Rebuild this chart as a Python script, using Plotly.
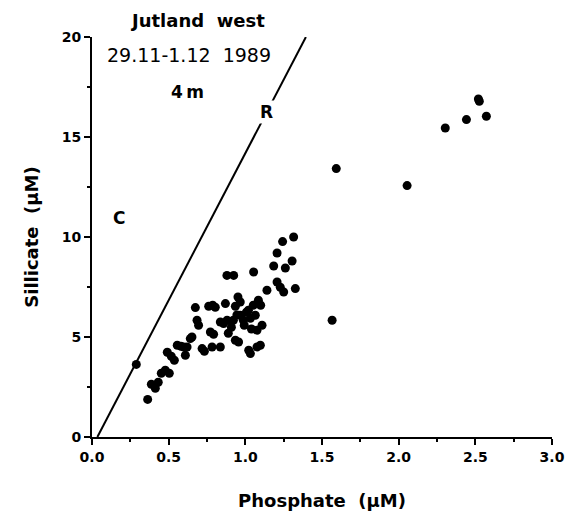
import plotly.graph_objects as go

# Scatter data: phosphate (µM) vs silicate (µM)
phosphate = [
    0.289, 0.363, 0.387, 0.413, 0.432, 0.452, 0.478, 0.504, 0.491, 0.517,
    0.537, 0.556, 0.580, 0.598, 0.609, 0.620, 0.641, 0.652, 0.674, 0.685,
    0.695, 0.718, 0.733, 0.761, 0.787, 0.804, 0.772, 0.793, 0.783, 0.837,
    0.837, 0.858, 0.881, 0.870, 0.889, 0.909, 0.935, 0.952, 0.967, 0.935,
    0.956, 0.922, 0.945, 0.967, 0.987, 1.007, 0.993, 1.020, 1.033, 1.052,
    1.065, 1.085, 1.100, 1.040, 0.880, 0.924, 1.054, 1.141, 1.207, 1.228,
    1.250, 1.326, 1.185, 1.261, 1.305, 1.207, 1.243, 1.315, 1.109, 1.076,
    1.098, 1.076, 1.022, 1.033, 1.566, 1.593, 2.055, 2.304, 2.442, 2.526,
    2.520, 2.572,
]
silicate = [
    3.63, 1.88, 2.64, 2.44, 2.74, 3.19, 3.34, 3.19, 4.24, 4.04,
    3.84, 4.59, 4.54, 4.50, 4.09, 4.50, 4.92, 5.00, 6.47, 5.84,
    5.59, 4.42, 4.29, 6.54, 6.59, 6.49, 5.25, 5.14, 4.50, 4.50,
    5.75, 5.67, 5.84, 6.67, 5.19, 5.49, 6.54, 7.00, 6.75, 4.84,
    4.75, 5.84, 6.10, 6.09, 5.84, 6.24, 5.59, 6.34, 5.94, 6.59,
    6.09, 6.84, 6.59, 5.40, 8.08, 8.08, 8.25, 7.34, 7.75, 7.49,
    7.25, 7.42, 8.55, 8.45, 8.80, 9.20, 9.77, 10.00, 5.59, 5.34,
    4.59, 4.50, 4.34, 4.17, 5.84, 13.42, 12.57, 15.45, 15.87, 16.79,
    16.90, 16.04,
]

# Reference ratio line (R)
line_p = [0.035, 1.395]
line_si = [0.0, 20.0]

x_ticks = [0.0, 0.5, 1.0, 1.5, 2.0, 2.5, 3.0]
x_ticktext = ["0.0", "0.5", "1.0", "1.5", "2.0", "2.5", "3.0"]
y_ticks = [0, 5, 10, 15, 20]

FONT = "DejaVu Sans"

fig = go.Figure()
fig.add_trace(go.Scatter(x=line_p, y=line_si, mode="lines",
                         line=dict(color="black", width=2),
                         hoverinfo="skip", showlegend=False, cliponaxis=False))
fig.add_trace(go.Scatter(x=phosphate, y=silicate, mode="markers",
                         marker=dict(color="black", size=9, line=dict(width=0)),
                         showlegend=False, cliponaxis=False))

axis_common = dict(
    showgrid=False, zeroline=False, showline=True, linecolor="black", linewidth=2,
    ticks="outside", ticklen=6, tickwidth=2, tickcolor="black",
    tickfont=dict(family=FONT, size=14, color="black", weight="bold"),
)

fig.update_xaxes(range=[0, 3], tickvals=x_ticks, ticktext=x_ticktext,
                 minor=dict(ticks="outside", ticklen=3, tickwidth=1.5,
                            tickcolor="black", dtick=0.25, tick0=0, showgrid=False),
                 title=dict(text="Phosphate\u00a0\u00a0(µM)", standoff=31,
                            font=dict(family=FONT, size=18, color="black", weight="bold")),
                 **axis_common)
fig.update_yaxes(range=[0, 20], tickvals=y_ticks,
                 minor=dict(ticks="outside", ticklen=3, tickwidth=1.5,
                            tickcolor="black", dtick=2.5, tick0=0, showgrid=False),
                 title=dict(text="Sillicate\u00a0\u00a0(µM)", standoff=18,
                            font=dict(family=FONT, size=18, color="black", weight="bold")),
                 **axis_common)

annotations = [
    dict(x=0.229, y=1.04, xref="paper", yref="paper", text="Jutland\u00a0\u00a0west",
         font=dict(family=FONT, size=18, color="black", weight="bold")),
    dict(x=0.635, y=19.08, xref="x", yref="y", text="29.11-1.12\u00a0\u00a01989",
         font=dict(family=FONT, size=19, color="black")),
    dict(x=0.622, y=17.23, xref="x", yref="y", text="4\u2009m",
         font=dict(family=FONT, size=17, color="black", weight="bold")),
    dict(x=0.174, y=10.95, xref="x", yref="y", text="C",
         font=dict(family=FONT, size=17, color="black", weight="bold")),
    dict(x=1.137, y=16.25, xref="x", yref="y", text="R", bgcolor="white",
         font=dict(family=FONT, size=17, color="black", weight="bold")),
]
for a in annotations:
    a.update(showarrow=False, xanchor="center", yanchor="middle")

fig.update_layout(
    width=573, height=513,
    margin=dict(l=92, r=21, t=37, b=76, autoexpand=False),
    paper_bgcolor="white", plot_bgcolor="white",
    annotations=annotations,
    font=dict(family=FONT, color="black"),
)

fig.write_html("out.html")
